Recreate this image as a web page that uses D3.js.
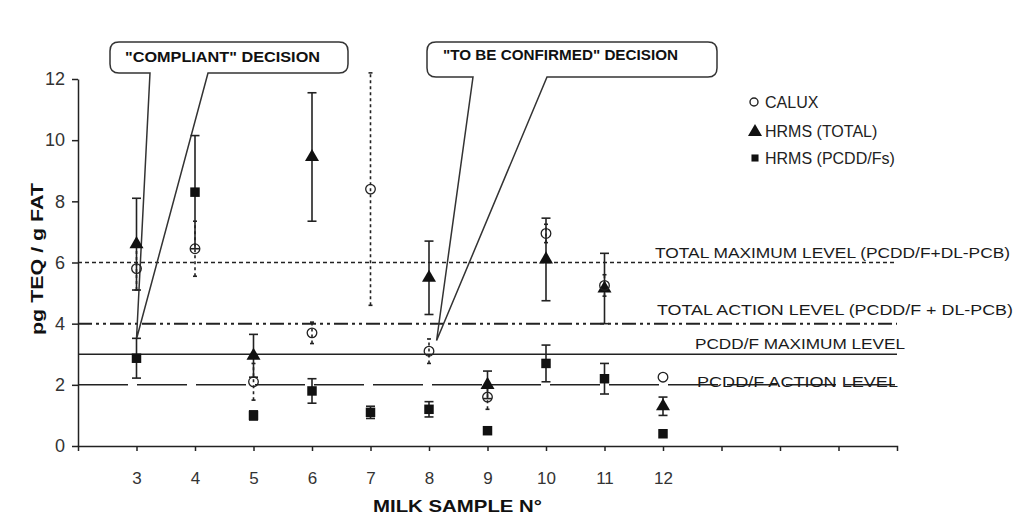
<!DOCTYPE html>
<html>
<head>
<meta charset="utf-8">
<script src="https://cdn.jsdelivr.net/npm/d3@7"></script>
<style>
  body { margin: 0; background: #fff; }
  svg { display: block; font-family: Arial, "Liberation Sans", sans-serif; }
</style>
</head>
<body>
<div id="graph"></div>
<script>
// milk samples and measured values (pg TEQ / g fat)
var samples = [3, 4, 5, 6, 7, 8, 9, 10, 11, 12];
var caluxVal = [5.8, 6.45, 2.1, 3.7, 8.4, 3.1, 1.6, 6.95, 5.25, 2.25];
var caluxErr = [0.7, 0.9, 0.6, 0.35, 3.8, 0.4, 0.4, 0.3, 0.35, 0];
var totalVal = [6.6, null, 2.95, 9.45, null, 5.5, 2.0, 6.1, 5.15, 1.3];
var totalErr = [1.5, null, 0.7, 2.1, null, 1.2, 0.45, 1.35, 1.15, 0.3];
var pcddVal = [2.87, 8.3, 1.0, 1.8, 1.1, 1.2, 0.5, 2.7, 2.2, 0.4];
var pcddErr = [0.65, 1.85, 0.15, 0.4, 0.2, 0.25, 0, 0.6, 0.5, 0];

var levelVals = [6, 4, 3, 2];
var levelLabels = ['TOTAL MAXIMUM LEVEL (PCDD/F+DL-PCB)', 'TOTAL ACTION LEVEL (PCDD/F + DL-PCB)',
                   'PCDD/F MAXIMUM LEVEL', 'PCDD/F ACTION LEVEL'];
var yTicks = [0, 2, 4, 6, 8, 10, 12];
var xTicks = [3, 4, 5, 6, 7, 8, 9, 10, 11, 12, 13, 14, 15];
var legendLabels = ['CALUX', 'HRMS (TOTAL)', 'HRMS (PCDD/Fs)'];

var w = 1015, h = 518;
var vis = d3.select('#graph').append('svg').attr('width', w).attr('height', h);

var x = d3.scaleLinear().domain([2, 16]).range([78, 897]);
var y = d3.scaleLinear().domain([0, 12]).range([446, 79]);

// level lines
var levelDash = ['4,3', '14,4,3,4,3,4', null, '50,9'];
var levelWidth = [1.3, 2, 1.5, 1.5];
var levelLabelX = [655, 657, 695, 697];
var levelLabelW = [355, 356, 210, 201];
var levelLabelDy = [-5, -9, -5, 2];

vis.selectAll('.level')
    .data(levelVals)
    .enter()
    .append('line')
    .attr('class', 'level')
    .attr('x1', x(2)).attr('x2', x(16))
    .attr('y1', function(d) { return y(d); })
    .attr('y2', function(d) { return y(d); })
    .attr('stroke', '#222')
    .attr('stroke-width', function(d, i) { return levelWidth[i]; })
    .attr('stroke-dasharray', function(d, i) { return levelDash[i]; });

vis.selectAll('.levelLabel')
    .data(levelVals)
    .enter()
    .append('text')
    .attr('x', function(d, i) { return levelLabelX[i]; })
    .attr('y', function(d, i) { return y(d) + levelLabelDy[i]; })
    .attr('font-size', '15px')
    .attr('fill', '#1a1a1a')
    .attr('textLength', function(d, i) { return levelLabelW[i]; })
    .attr('lengthAdjust', 'spacingAndGlyphs')
    .text(function(d, i) { return levelLabels[i]; });

// axes
var xAxis = d3.axisBottom(x).tickValues(xTicks).tickSize(5)
    .tickFormat(function(d) { return d <= 12 ? d : ''; });
var gx = vis.append('g').attr('transform', 'translate(0,' + y(0) + ')').call(xAxis);
gx.select('.domain').attr('stroke', '#222').attr('stroke-width', 1.5);
gx.selectAll('.tick line').attr('stroke', '#222').attr('stroke-width', 1.5);
gx.selectAll('.tick text').attr('font-size', '17px').attr('fill', '#333')
    .attr('font-family', 'Arial, "Liberation Sans", sans-serif').attr('y', 16).attr('dy', '1.3em');

var yAxis = d3.axisLeft(y).tickValues(yTicks).tickSize(6).tickSizeOuter(0);
var gy = vis.append('g').attr('transform', 'translate(' + x(2) + ',0)').call(yAxis);
gy.select('.domain').attr('stroke', '#222').attr('stroke-width', 1.5);
gy.selectAll('.tick line').attr('stroke', '#222').attr('stroke-width', 1.5);
gy.selectAll('.tick text').attr('font-size', '18px').attr('fill', '#333')
    .attr('font-family', 'Arial, "Liberation Sans", sans-serif').attr('x', -13);

vis.append('text')
    .attr('transform', 'translate(43,259) rotate(-90)')
    .attr('text-anchor', 'middle')
    .attr('font-size', '17px')
    .attr('font-weight', 'bold')
    .attr('fill', '#111')
    .attr('textLength', 152)
    .attr('lengthAdjust', 'spacingAndGlyphs')
    .text('pg TEQ / g FAT');

vis.append('text')
    .attr('x', 373)
    .attr('y', 512)
    .attr('font-size', '17px')
    .attr('font-weight', 'bold')
    .attr('fill', '#111')
    .attr('textLength', 169)
    .attr('lengthAdjust', 'spacingAndGlyphs')
    .text('MILK SAMPLE N°');

// callouts
function callout(x0, y0, x1, y1, p0, p1, tx, ty) {
  var r = 9, p = d3.path();
  p.moveTo(x0 + r, y0);
  p.lineTo(x1 - r, y0);
  p.quadraticCurveTo(x1, y0, x1, y0 + r);
  p.lineTo(x1, y1 - r);
  p.quadraticCurveTo(x1, y1, x1 - r, y1);
  p.lineTo(p1, y1);
  p.lineTo(tx, ty);
  p.lineTo(p0, y1);
  p.lineTo(x0 + r, y1);
  p.quadraticCurveTo(x0, y1, x0, y1 - r);
  p.lineTo(x0, y0 + r);
  p.quadraticCurveTo(x0, y0, x0 + r, y0);
  p.closePath();
  return p.toString();
}

vis.append('path')
    .attr('d', callout(110, 42, 348, 73, 150, 208, x(3), y(3.5)))
    .attr('fill', 'none').attr('stroke', '#333').attr('stroke-width', 1.5);
vis.append('path')
    .attr('d', callout(427, 42, 717, 77, 473, 547, x(8.13), y(3.45)))
    .attr('fill', 'none').attr('stroke', '#333').attr('stroke-width', 1.5);

vis.append('text')
    .attr('x', 125).attr('y', 62)
    .attr('font-size', '15px').attr('font-weight', 'bold').attr('fill', '#111')
    .attr('textLength', 195).attr('lengthAdjust', 'spacingAndGlyphs')
    .text('"COMPLIANT" DECISION');
vis.append('text')
    .attr('x', 443).attr('y', 60)
    .attr('font-size', '15px').attr('font-weight', 'bold').attr('fill', '#111')
    .attr('textLength', 235).attr('lengthAdjust', 'spacingAndGlyphs')
    .text('"TO BE CONFIRMED" DECISION');

// series
function series(vals, errs) {
  var out = [];
  samples.forEach(function(s, i) {
    if (vals[i] != null) out.push({s: s, v: vals[i], e: errs[i]});
  });
  return out;
}
var calux = series(caluxVal, caluxErr);
var total = series(totalVal, totalErr);
var pcdd = series(pcddVal, pcddErr);

function errorBars(cls, data, dash, cap) {
  var g = vis.append('g').attr('class', cls);
  var bars = data.filter(function(d) { return d.e > 0; });
  g.selectAll('.bar').data(bars).enter().append('line')
      .attr('x1', function(d) { return x(d.s); })
      .attr('x2', function(d) { return x(d.s); })
      .attr('y1', function(d) { return y(d.v - d.e); })
      .attr('y2', function(d) { return y(d.v + d.e); })
      .attr('stroke', '#222').attr('stroke-width', 1.6)
      .attr('stroke-dasharray', dash);
  [-1, 1].forEach(function(k) {
    g.selectAll('.cap' + k).data(bars).enter().append('line')
        .attr('x1', function(d) { return x(d.s) - cap; })
        .attr('x2', function(d) { return x(d.s) + cap; })
        .attr('y1', function(d) { return y(d.v + k * d.e); })
        .attr('y2', function(d) { return y(d.v + k * d.e); })
        .attr('stroke', '#222').attr('stroke-width', 1.6);
  });
}

errorBars('calux-err', calux, '3,3', 2);
errorBars('total-err', total, null, 4.5);
errorBars('pcdd-err', pcdd, null, 4.5);

var tri = d3.symbol().type(d3.symbolTriangle).size(85);
var sq = d3.symbol().type(d3.symbolSquare).size(90);

vis.selectAll('.pcdd').data(pcdd).enter().append('path')
    .attr('class', 'pcdd')
    .attr('transform', function(d) { return 'translate(' + x(d.s) + ',' + y(d.v) + ')'; })
    .attr('d', sq).attr('fill', '#111');

vis.selectAll('.total').data(total).enter().append('path')
    .attr('class', 'total')
    .attr('transform', function(d) { return 'translate(' + x(d.s) + ',' + y(d.v) + ')'; })
    .attr('d', tri).attr('fill', '#111');

vis.selectAll('.calux').data(calux).enter().append('circle')
    .attr('class', 'calux')
    .attr('cx', function(d) { return x(d.s); })
    .attr('cy', function(d) { return y(d.v); })
    .attr('r', 4.8)
    .attr('fill', 'none').attr('stroke', '#222').attr('stroke-width', 1.3);

// legend
var legY = [102, 131, 158];
var leg = vis.append('g');
leg.append('circle').attr('cx', 754).attr('cy', legY[0]).attr('r', 4)
    .attr('fill', 'none').attr('stroke', '#222').attr('stroke-width', 1.4);
leg.append('path').attr('transform', 'translate(755,' + (legY[1] + 1) + ')')
    .attr('d', tri).attr('fill', '#111');
leg.append('path').attr('transform', 'translate(755,' + legY[2] + ')')
    .attr('d', d3.symbol().type(d3.symbolSquare).size(50)).attr('fill', '#111');
leg.selectAll('.legText').data(legendLabels).enter().append('text')
    .attr('x', 765)
    .attr('y', function(d, i) { return legY[i] + 6; })
    .attr('font-size', '16px')
    .attr('fill', '#222')
    .text(function(d) { return d; });
</script>
</body>
</html>
